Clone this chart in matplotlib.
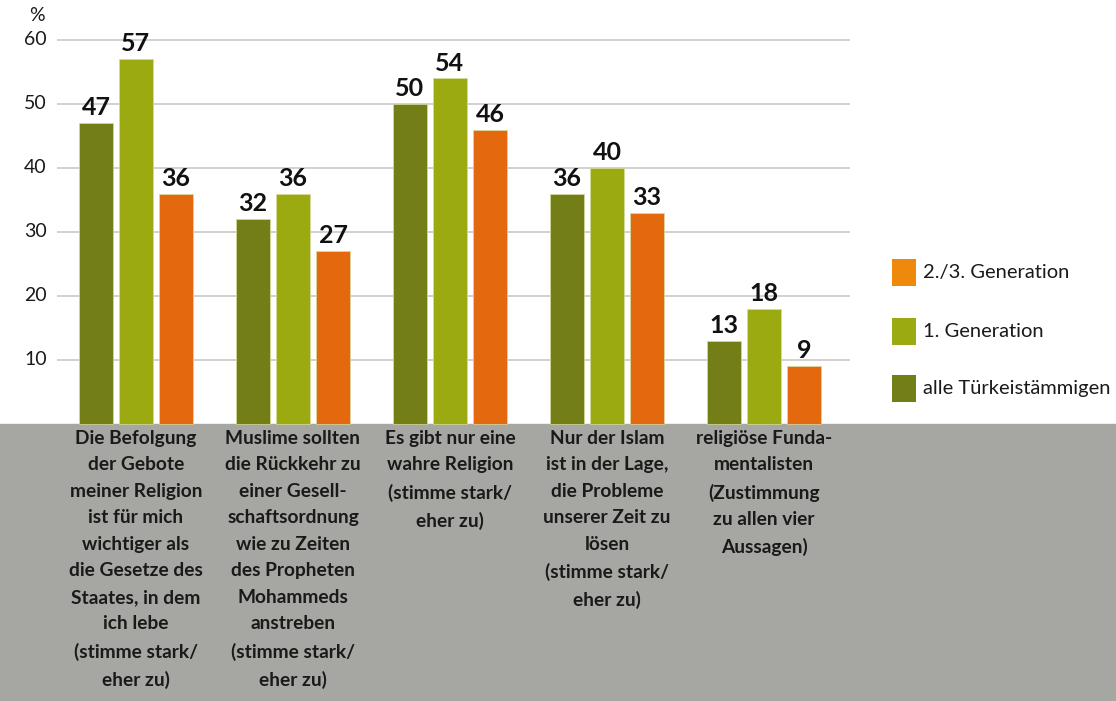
import matplotlib.pyplot as plt
import numpy as np

# data
categories = [
    "Die Befolgung\nder Gebote\nmeiner Religion\nist für mich\nwichtiger als\ndie Gesetze des\nStaates, in dem\nich lebe\n(stimme stark/\neher zu)",
    "Muslime sollten\ndie Rückkehr zu\neiner Gesell-\nschaftsordnung\nwie zu Zeiten\ndes Propheten\nMohammeds\nanstreben\n(stimme stark/\neher zu)",
    "Es gibt nur eine\nwahre Religion\n(stimme stark/\neher zu)",
    "Nur der Islam\nist in der Lage,\ndie Probleme\nunserer Zeit zu\nlösen\n(stimme stark/\neher zu)",
    "religiöse Funda-\nmentalisten\n(Zustimmung\nzu allen vier\nAussagen)",
]
alle = [47, 32, 50, 36, 13]
gen1 = [57, 36, 54, 40, 18]
gen23 = [36, 27, 46, 33, 9]
yticks = [10, 20, 30, 40, 50, 60]

series = [alle, gen1, gen23]
colors = ['#737E17', '#9CAA12', '#E4690E']
legend_labels = ['2./3. Generation', '1. Generation', 'alle Türkeistämmigen']
legend_colors = ['#EE890C', '#9CAA12', '#737E17']

plt.rcParams['font.family'] = ['Lato', 'DejaVu Sans']

fig = plt.figure(figsize=(11.16, 7.01), dpi=100)
ax = fig.add_axes([0, 0, 1, 1])
ax.set_xlim(-0.866, 6.242)
ax.set_ylim(-43.3, 66.25)
ax.axis('off')

# gray band below the baseline
ax.axhspan(-43.3, 0, color='#A6A6A3', zorder=0)

# grid lines
for t in yticks:
    ax.hlines(t, -0.503, 4.548, color='#C9C9C9', lw=1.2, zorder=1)
    ax.text(-0.64, t, str(t), ha='center', va='center', fontsize=14, color='#1a1a1a')
ax.text(-0.63, 63.8, '%', ha='center', va='center', fontsize=14, color='#1a1a1a')

x = np.arange(len(categories))
width = 0.215
offsets = [-0.255, 0, 0.255]
for vals, col, off in zip(series, colors, offsets):
    ax.bar(x + off, vals, width, color=col, edgecolor='#d8dca0', lw=0.5, zorder=2)
    for xi, v in zip(x, vals):
        ax.text(xi + off, v + 0.6, str(v), ha='center', va='bottom',
                fontsize=18, fontweight='bold', color='#111111')

for xi, lab in zip(x, categories):
    ax.text(xi, -0.9, lab, ha='center', va='top', fontsize=13.8,
            fontweight='bold', color='#1a1a1a', linespacing=1.68)

# legend
leg_y = [23.7, 14.5, 5.5]
for lab, col, ly in zip(legend_labels, legend_colors, leg_y):
    ax.bar(4.89, 4.2, 0.153, bottom=ly - 2.1, color=col, zorder=2)
    ax.text(5.01, ly, lab, ha='left', va='center', fontsize=14.5, color='#1a1a1a')

fig.savefig('out.png', dpi=100)
